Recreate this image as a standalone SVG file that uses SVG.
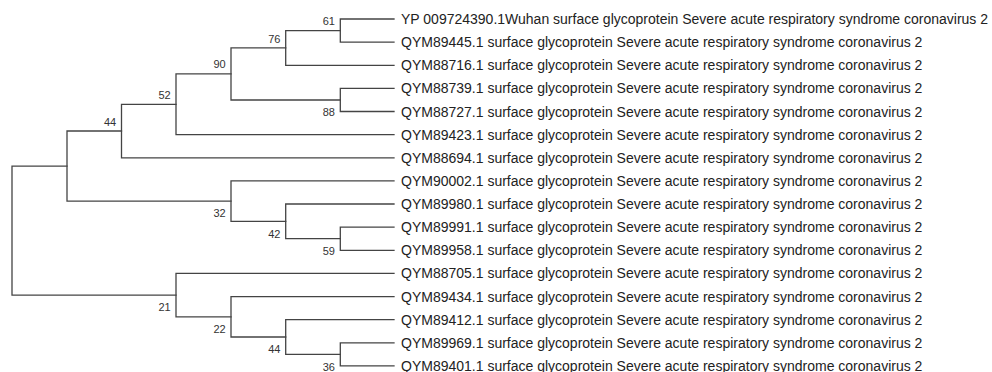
<svg xmlns="http://www.w3.org/2000/svg" width="992" height="372" viewBox="0 0 992 372">
<style>
.br{fill:none;stroke:#444;stroke-width:1.3;stroke-linecap:square}
.lf{font-family:"Liberation Sans",Arial,sans-serif;font-size:14px;fill:#222}
.bs{font-family:"Liberation Sans",Arial,sans-serif;font-size:11px;fill:#333;text-anchor:end}
</style>
<rect width="992" height="372" fill="#fff"/>
<g id="connectors">
<path class="br" d="M394 19 H340.3 V42.1 H394"/>
<path class="br" d="M340.3 30.6 H285.7 V65.3 H394"/>
<path class="br" d="M394 88.4 H340.3 V111.5 H394"/>
<path class="br" d="M285.7 47.9 H231 V100 H340.3"/>
<path class="br" d="M231 73.9 H176 V134.7 H394"/>
<path class="br" d="M176 104.3 H121.5 V157.8 H394"/>
<path class="br" d="M394 227.2 H340.3 V250.3 H394"/>
<path class="br" d="M394 204 H285.7 V238.7 H340.3"/>
<path class="br" d="M394 180.9 H231 V221.4 H285.7"/>
<path class="br" d="M121.5 131 H67 V201.1 H231"/>
<path class="br" d="M394 342.8 H340.3 V365.9 H394"/>
<path class="br" d="M394 319.7 H285.7 V354.4 H340.3"/>
<path class="br" d="M394 296.6 H231 V337 H285.7"/>
<path class="br" d="M394 273.4 H176 V316.8 H231"/>
<path class="br" d="M67 166.1 H12 V295.1 H176"/>
</g>
<g id="bootstrap">
<text id="bs61" class="bs" x="335" y="25">61</text>
<text id="bs76" class="bs" x="280.4" y="42.5">76</text>
<text id="bs90" class="bs" x="225.7" y="68.3">90</text>
<text id="bs52" class="bs" x="170.7" y="98.5">52</text>
<text id="bs44a" class="bs" x="116.2" y="125.5">44</text>
<text id="bs88" class="bs" x="335" y="116.3">88</text>
<text id="bs32" class="bs" x="225.7" y="217.3">32</text>
<text id="bs42" class="bs" x="280.4" y="238">42</text>
<text id="bs59" class="bs" x="335" y="255">59</text>
<text id="bs21" class="bs" x="170.7" y="311">21</text>
<text id="bs22" class="bs" x="225.7" y="333">22</text>
<text id="bs44b" class="bs" x="280.4" y="353.3">44</text>
<text id="bs36" class="bs" x="335" y="370.7">36</text>
</g>
<g id="leaf0"><text class="lf" x="401" y="24">YP 009724390.1Wuhan surface glycoprotein Severe acute respiratory syndrome coronavirus 2</text></g>
<g id="leaf1"><text class="lf" x="401" y="47.1">QYM89445.1 surface glycoprotein Severe acute respiratory syndrome coronavirus 2</text></g>
<g id="leaf2"><text class="lf" x="401" y="70.3">QYM88716.1 surface glycoprotein Severe acute respiratory syndrome coronavirus 2</text></g>
<g id="leaf3"><text class="lf" x="401" y="93.4">QYM88739.1 surface glycoprotein Severe acute respiratory syndrome coronavirus 2</text></g>
<g id="leaf4"><text class="lf" x="401" y="116.5">QYM88727.1 surface glycoprotein Severe acute respiratory syndrome coronavirus 2</text></g>
<g id="leaf5"><text class="lf" x="401" y="139.7">QYM89423.1 surface glycoprotein Severe acute respiratory syndrome coronavirus 2</text></g>
<g id="leaf6"><text class="lf" x="401" y="162.8">QYM88694.1 surface glycoprotein Severe acute respiratory syndrome coronavirus 2</text></g>
<g id="leaf7"><text class="lf" x="401" y="185.9">QYM90002.1 surface glycoprotein Severe acute respiratory syndrome coronavirus 2</text></g>
<g id="leaf8"><text class="lf" x="401" y="209">QYM89980.1 surface glycoprotein Severe acute respiratory syndrome coronavirus 2</text></g>
<g id="leaf9"><text class="lf" x="401" y="232.2">QYM89991.1 surface glycoprotein Severe acute respiratory syndrome coronavirus 2</text></g>
<g id="leaf10"><text class="lf" x="401" y="255.3">QYM89958.1 surface glycoprotein Severe acute respiratory syndrome coronavirus 2</text></g>
<g id="leaf11"><text class="lf" x="401" y="278.4">QYM88705.1 surface glycoprotein Severe acute respiratory syndrome coronavirus 2</text></g>
<g id="leaf12"><text class="lf" x="401" y="301.6">QYM89434.1 surface glycoprotein Severe acute respiratory syndrome coronavirus 2</text></g>
<g id="leaf13"><text class="lf" x="401" y="324.7">QYM89412.1 surface glycoprotein Severe acute respiratory syndrome coronavirus 2</text></g>
<g id="leaf14"><text class="lf" x="401" y="347.8">QYM89969.1 surface glycoprotein Severe acute respiratory syndrome coronavirus 2</text></g>
<g id="leaf15"><text class="lf" x="401" y="370.9">QYM89401.1 surface glycoprotein Severe acute respiratory syndrome coronavirus 2</text></g>
</svg>
